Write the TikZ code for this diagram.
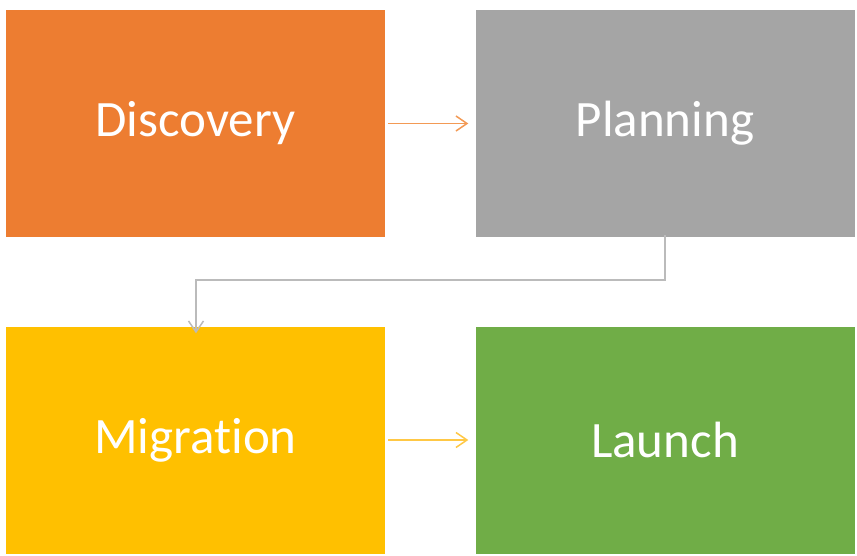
\documentclass[tikz,border=0pt]{standalone}
\usepackage{fontspec}
\setmainfont[Ligatures=NoCommon]{Carlito}
\usetikzlibrary{arrows.meta}
\definecolor{oOrange}{HTML}{ED7D31}
\definecolor{oGray}{HTML}{A5A5A5}
\definecolor{oGold}{HTML}{FFC000}
\definecolor{oGreen}{HTML}{70AD47}
\definecolor{lnOrange}{HTML}{F39A55}
\definecolor{lnGold}{HTML}{FFC845}
\definecolor{lnGray}{HTML}{BBBBBB}
\begin{document}
\begin{tikzpicture}[x=1pt,y=-1pt,
  stage/.style={minimum width=379pt,minimum height=227pt,inner sep=0pt,
    text=white,font=\fontsize{51}{60}\selectfont},
  link/.style={line width=1.5pt,-{Straight Barb[length=11pt,width=15pt,line width=1.5pt]}}]
\useasboundingbox (0,0) rectangle (857,556);
\node[stage,fill=oOrange] (disc) at (195.5,123.5) {Discovery};
\node[stage,fill=oGray]   (plan) at (665,123.5) {Planning};
\node[stage,fill=oGold]   (migr) at (195.5,440) {Migrat\kern0pt ion};
\node[stage,fill=oGreen]  (laun) at (665,440) {Launch};
\draw[link,lnOrange] ([xshift=3pt]disc.east) -- ([xshift=-7pt]plan.west);
\draw[link,lnGold] ([xshift=3pt]migr.east) -- ([xshift=-7pt]laun.west);
\draw[link,lnGray] ([yshift=2pt]plan.south) -- ++(0,45) -| ([yshift=-7pt,xshift=0.5pt]migr.north);
\end{tikzpicture}
\end{document}
